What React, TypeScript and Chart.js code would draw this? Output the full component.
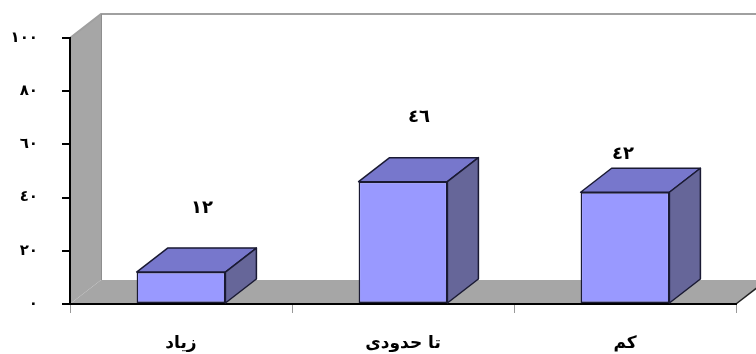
import React, { useEffect, useRef } from "react";
import { Chart, registerables } from "chart.js";

Chart.register(...registerables);

const categories = ["زیاد", "تا حدودی", "کم"];
const values = [12, 46, 42];
const yTickLabels = ["٠", "٢٠", "٤٠", "٦٠", "٨٠", "١٠٠"];

const DEPTH = { dx: 31, dy: -24 };
// manual nudges of the value labels (pixels), as placed in the original
const LABEL_NUDGE_X = [21, 16, -2];
const LABEL_NUDGE_Y = [-64, -64, -38];

const FONT = "'DejaVu Sans', sans-serif";

const toArabicDigits = (n: number) =>
  String(n).replace(/[0-9]/g, (d) => "٠١٢٣٤٥٦٧٨٩"[Number(d)]);

const wallsPlugin = {
  id: "walls",
  beforeDraw(chart: any) {
    const { ctx, chartArea: a } = chart;
    const { dx, dy } = DEPTH;
    ctx.save();
    ctx.fillStyle = "#a6a6a6";
    // side wall
    ctx.beginPath();
    ctx.moveTo(a.left, a.top);
    ctx.lineTo(a.left + dx, a.top + dy);
    ctx.lineTo(a.left + dx, a.bottom + dy);
    ctx.lineTo(a.left, a.bottom);
    ctx.closePath();
    ctx.fill();
    // floor
    ctx.beginPath();
    ctx.moveTo(a.left, a.bottom);
    ctx.lineTo(a.left + dx, a.bottom + dy);
    ctx.lineTo(a.right + dx, a.bottom + dy);
    ctx.lineTo(a.right, a.bottom);
    ctx.closePath();
    ctx.fill();
    // top edges
    ctx.strokeStyle = "#a0a0a0";
    ctx.lineWidth = 2;
    ctx.beginPath();
    ctx.moveTo(a.left, a.top);
    ctx.lineTo(a.left + dx, a.top + dy);
    ctx.lineTo(a.right + dx, a.top + dy);
    ctx.stroke();
    // back wall left edge
    ctx.strokeStyle = "#8e8e8e";
    ctx.lineWidth = 1;
    ctx.beginPath();
    ctx.moveTo(a.left + dx + 0.5, a.top + dy);
    ctx.lineTo(a.left + dx + 0.5, a.bottom + dy);
    ctx.stroke();
    // floor right edge
    ctx.strokeStyle = "#222";
    ctx.lineWidth = 1.5;
    ctx.beginPath();
    ctx.moveTo(a.right, a.bottom);
    ctx.lineTo(a.right + dx, a.bottom + dy);
    ctx.stroke();
    ctx.restore();
  },
};

const bars3dPlugin = {
  id: "bars3d",
  afterDatasetsDraw(chart: any) {
    const { ctx } = chart;
    const { dx, dy } = DEPTH;
    const meta = chart.getDatasetMeta(0);
    ctx.save();
    ctx.lineWidth = 1.5;
    ctx.strokeStyle = "#1a1a33";
    ctx.lineJoin = "round";
    meta.data.forEach((bar: any, i: number) => {
      const { x, y, base, width } = bar.getProps(["x", "y", "base", "width"], true);
      const l = x - width / 2;
      const r = x + width / 2;
      // top face
      ctx.fillStyle = "#7777cc";
      ctx.beginPath();
      ctx.moveTo(l, y);
      ctx.lineTo(l + dx, y + dy);
      ctx.lineTo(r + dx, y + dy);
      ctx.lineTo(r, y);
      ctx.closePath();
      ctx.fill();
      ctx.stroke();
      // side face
      ctx.fillStyle = "#666699";
      ctx.beginPath();
      ctx.moveTo(r, y);
      ctx.lineTo(r + dx, y + dy);
      ctx.lineTo(r + dx, base + dy);
      ctx.lineTo(r, base);
      ctx.closePath();
      ctx.fill();
      ctx.stroke();
      // value label
      ctx.fillStyle = "#000";
      ctx.font = `bold 18px ${FONT}`;
      ctx.textAlign = "center";
      ctx.textBaseline = "middle";
      ctx.fillText(
        toArabicDigits(values[i]),
        x + LABEL_NUDGE_X[i],
        y + LABEL_NUDGE_Y[i]
      );
    });
    ctx.restore();
  },
};

export default function App() {
  const ref = useRef<HTMLCanvasElement | null>(null);
  useEffect(() => {
    document.body.style.margin = "0";
    const canvas = ref.current;
    if (!canvas) return;
    const chart = new Chart(canvas, {
      type: "bar",
      data: {
        labels: categories,
        datasets: [
          {
            data: values,
            backgroundColor: "#9999ff",
            borderColor: "#1a1a33",
            borderWidth: 1.5,
            borderSkipped: false,
            categoryPercentage: 1,
            barPercentage: 0.4,
          },
        ],
      },
      options: {
        animation: false,
        responsive: false,
        maintainAspectRatio: false,
        layout: { padding: { top: 38, right: 20, bottom: 0, left: 0 } },
        plugins: {
          legend: { display: false },
          tooltip: { enabled: false },
          title: { display: false },
        },
        scales: {
          x: {
            afterFit: (s: any) => {
              s.height = 50;
            },
            grid: {
              display: true,
              drawOnChartArea: false,
              drawTicks: true,
              tickLength: 9,
              tickColor: "#999",
              lineWidth: 1,
              offset: true,
            },
            border: { display: true, color: "#000", width: 2 },
            ticks: {
              color: "#000",
              padding: 20,
              maxRotation: 0,
              font: { family: FONT, size: 17, weight: "bold" },
            },
          },
          y: {
            min: 0,
            max: 100,
            afterFit: (s: any) => {
              s.width = 70;
            },
            grid: {
              display: true,
              drawOnChartArea: false,
              drawTicks: true,
              tickLength: 8,
              tickColor: "#000",
              lineWidth: 2,
            },
            border: { display: true, color: "#000", width: 2 },
            ticks: {
              stepSize: 20,
              color: "#000",
              padding: 24,
              font: { family: FONT, size: 15, weight: "bold" },
              callback: (_v: any, i: number) => yTickLabels[i],
            },
          },
        },
      },
      plugins: [wallsPlugin, bars3dPlugin],
    });
    return () => chart.destroy();
  }, []);
  return (
    <div style={{ width: 756, height: 354 }}>
      <canvas ref={ref} width={756} height={354} />
    </div>
  );
}
